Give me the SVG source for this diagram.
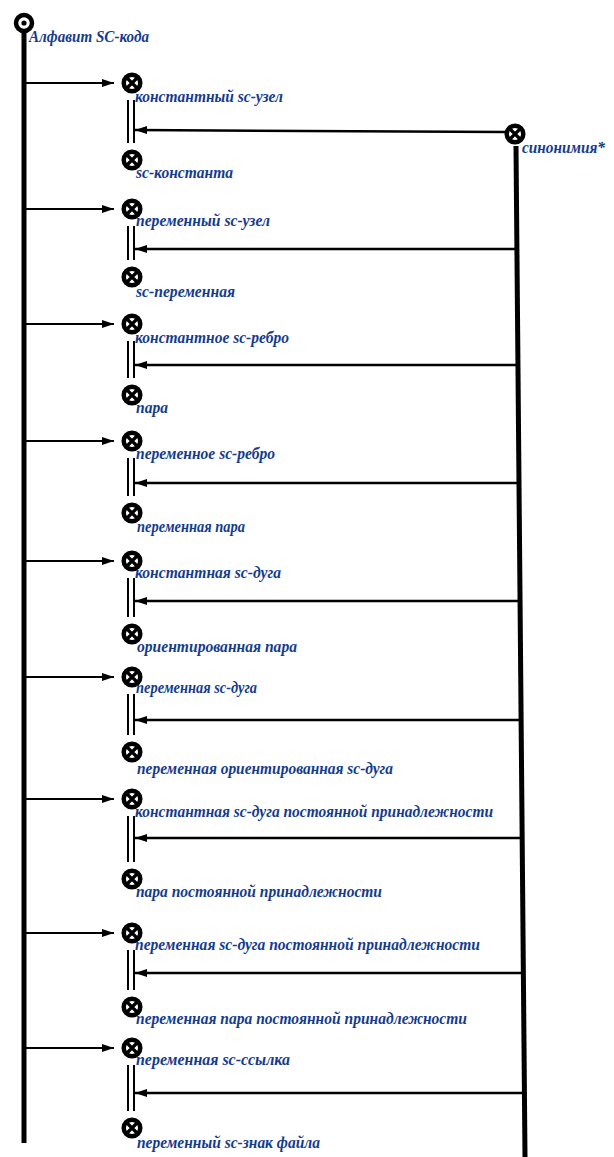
<svg xmlns="http://www.w3.org/2000/svg" width="614" height="1157" viewBox="0 0 614 1157">
  <style>
    .lbl { font-family: "Liberation Serif", "DejaVu Serif", serif; font-weight: bold; font-style: italic; font-size: 17px; fill: #143b8c; }
    .bus { stroke: #000; stroke-width: 5; fill: none; }
    .arc { stroke: #000; stroke-width: 2; fill: none; }
    .syn { stroke: #000; stroke-width: 2.5; fill: none; }
    .pair { stroke: #000; stroke-width: 2; fill: none; }
    .ring { fill: #fff; stroke: #000; stroke-width: 4.5; }
    .cross { stroke: #000; stroke-width: 3.2; stroke-linecap: round; }
  </style>
  <defs>
    <marker id="head" viewBox="0 0 12 8" refX="12" refY="4" markerWidth="12" markerHeight="8" markerUnits="userSpaceOnUse" orient="auto">
      <path d="M0,0 L12,4 L0,8 Z" fill="#000"/>
    </marker>
    <!-- sc-node: ring with a cross -->
    <g id="scnode">
      <circle r="8.3" class="ring"/>
      <path d="M-5,-5 L5,5 M5,-5 L-5,5" class="cross"/>
    </g>
  </defs>

  <rect width="614" height="1157" fill="#fff"/>

  <g id="connectors">
    <!-- vertical buses -->
    <line class="bus" x1="24" y1="33" x2="24" y2="1143"/>
    <line class="bus" x1="516" y1="146" x2="525" y2="1157"/>

    <!-- membership arcs from the alphabet -->
    <line class="arc" x1="26" y1="83" x2="114" y2="83" marker-end="url(#head)"/>
    <line class="arc" x1="26" y1="209" x2="114" y2="209" marker-end="url(#head)"/>
    <line class="arc" x1="26" y1="324" x2="114" y2="324" marker-end="url(#head)"/>
    <line class="arc" x1="26" y1="441" x2="114" y2="441" marker-end="url(#head)"/>
    <line class="arc" x1="26" y1="561" x2="114" y2="561" marker-end="url(#head)"/>
    <line class="arc" x1="26" y1="677" x2="114" y2="677" marker-end="url(#head)"/>
    <line class="arc" x1="26" y1="799" x2="114" y2="799" marker-end="url(#head)"/>
    <line class="arc" x1="26" y1="933" x2="114" y2="933" marker-end="url(#head)"/>
    <line class="arc" x1="26" y1="1048" x2="114" y2="1048" marker-end="url(#head)"/>

    <!-- synonym pairs (double edges) -->
    <path class="pair" d="M128,100 V143 M134,100 V143"/>
    <path class="pair" d="M128,226 V260 M134,226 V260"/>
    <path class="pair" d="M128,341 V378 M134,341 V378"/>
    <path class="pair" d="M128,458 V496 M134,458 V496"/>
    <path class="pair" d="M128,578 V617 M134,578 V617"/>
    <path class="pair" d="M128,694 V735 M134,694 V735"/>
    <path class="pair" d="M128,816 V862 M134,816 V862"/>
    <path class="pair" d="M128,950 V990 M134,950 V990"/>
    <path class="pair" d="M128,1065 V1111 M134,1065 V1111"/>

    <!-- arcs from the synonymy relation -->
    <line class="syn" x1="505" y1="132" x2="135" y2="130" marker-end="url(#head)"/>
    <line class="syn" x1="517" y1="249" x2="135" y2="249" marker-end="url(#head)"/>
    <line class="syn" x1="518" y1="365" x2="135" y2="365" marker-end="url(#head)"/>
    <line class="syn" x1="519" y1="483" x2="135" y2="483" marker-end="url(#head)"/>
    <line class="syn" x1="520" y1="601" x2="135" y2="601" marker-end="url(#head)"/>
    <line class="syn" x1="521" y1="720" x2="135" y2="720" marker-end="url(#head)"/>
    <line class="syn" x1="522" y1="838" x2="135" y2="838" marker-end="url(#head)"/>
    <line class="syn" x1="524" y1="973" x2="135" y2="973" marker-end="url(#head)"/>
    <line class="syn" x1="525" y1="1093" x2="135" y2="1093" marker-end="url(#head)"/>
  </g>

  <g id="alphabet">
    <circle cx="24" cy="23" r="8" class="ring"/>
    <circle cx="24" cy="23" r="2.6" fill="#000"/>
    <text class="lbl" x="29" y="42" textLength="120" lengthAdjust="spacingAndGlyphs">Алфавит SC-кода</text>
  </g>

  <g id="synonymy">
    <use href="#scnode" x="515" y="134"/>
    <text class="lbl" x="522" y="153" textLength="83" lengthAdjust="spacingAndGlyphs">синонимия*</text>
  </g>

  <g id="n1a"><use href="#scnode" x="132" y="83"/><text class="lbl" x="135" y="102" textLength="148" lengthAdjust="spacingAndGlyphs">константный sc-узел</text></g>
  <g id="n1b"><use href="#scnode" x="132" y="160"/><text class="lbl" x="136" y="178" textLength="97" lengthAdjust="spacingAndGlyphs">sc-константа</text></g>

  <g id="n2a"><use href="#scnode" x="132" y="209"/><text class="lbl" x="136" y="226" textLength="134" lengthAdjust="spacingAndGlyphs">переменный sc-узел</text></g>
  <g id="n2b"><use href="#scnode" x="132" y="277"/><text class="lbl" x="136" y="297" textLength="99" lengthAdjust="spacingAndGlyphs">sc-переменная</text></g>

  <g id="n3a"><use href="#scnode" x="132" y="324"/><text class="lbl" x="135" y="343" textLength="154" lengthAdjust="spacingAndGlyphs">константное sc-ребро</text></g>
  <g id="n3b"><use href="#scnode" x="132" y="395"/><text class="lbl" x="136" y="413" textLength="32" lengthAdjust="spacingAndGlyphs">пара</text></g>

  <g id="n4a"><use href="#scnode" x="132" y="441"/><text class="lbl" x="136" y="459" textLength="139" lengthAdjust="spacingAndGlyphs">переменное sc-ребро</text></g>
  <g id="n4b"><use href="#scnode" x="132" y="513"/><text class="lbl" x="137" y="532" textLength="108" lengthAdjust="spacingAndGlyphs">переменная пара</text></g>

  <g id="n5a"><use href="#scnode" x="132" y="561"/><text class="lbl" x="135" y="578" textLength="146" lengthAdjust="spacingAndGlyphs">константная sc-дуга</text></g>
  <g id="n5b"><use href="#scnode" x="132" y="634"/><text class="lbl" x="137" y="652" textLength="160" lengthAdjust="spacingAndGlyphs">ориентированная пара</text></g>

  <g id="n6a"><use href="#scnode" x="132" y="677"/><text class="lbl" x="136" y="693" textLength="121" lengthAdjust="spacingAndGlyphs">переменная sc-дуга</text></g>
  <g id="n6b"><use href="#scnode" x="132" y="752"/><text class="lbl" x="137" y="774" textLength="256" lengthAdjust="spacingAndGlyphs">переменная ориентированная sc-дуга</text></g>

  <g id="n7a"><use href="#scnode" x="132" y="799"/><text class="lbl" x="135" y="817" textLength="358" lengthAdjust="spacingAndGlyphs">константная sc-дуга постоянной принадлежности</text></g>
  <g id="n7b"><use href="#scnode" x="132" y="879"/><text class="lbl" x="136" y="897" textLength="246" lengthAdjust="spacingAndGlyphs">пара постоянной принадлежности</text></g>

  <g id="n8a"><use href="#scnode" x="132" y="933"/><text class="lbl" x="135" y="950" textLength="345" lengthAdjust="spacingAndGlyphs">переменная sc-дуга постоянной принадлежности</text></g>
  <g id="n8b"><use href="#scnode" x="132" y="1007"/><text class="lbl" x="136" y="1024" textLength="331" lengthAdjust="spacingAndGlyphs">переменная пара постоянной принадлежности</text></g>

  <g id="n9a"><use href="#scnode" x="132" y="1048"/><text class="lbl" x="136" y="1065" textLength="154" lengthAdjust="spacingAndGlyphs">переменная sc-ссылка</text></g>
  <g id="n9b"><use href="#scnode" x="132" y="1128"/><text class="lbl" x="137" y="1148" textLength="183" lengthAdjust="spacingAndGlyphs">переменный sc-знак файла</text></g>
</svg>
